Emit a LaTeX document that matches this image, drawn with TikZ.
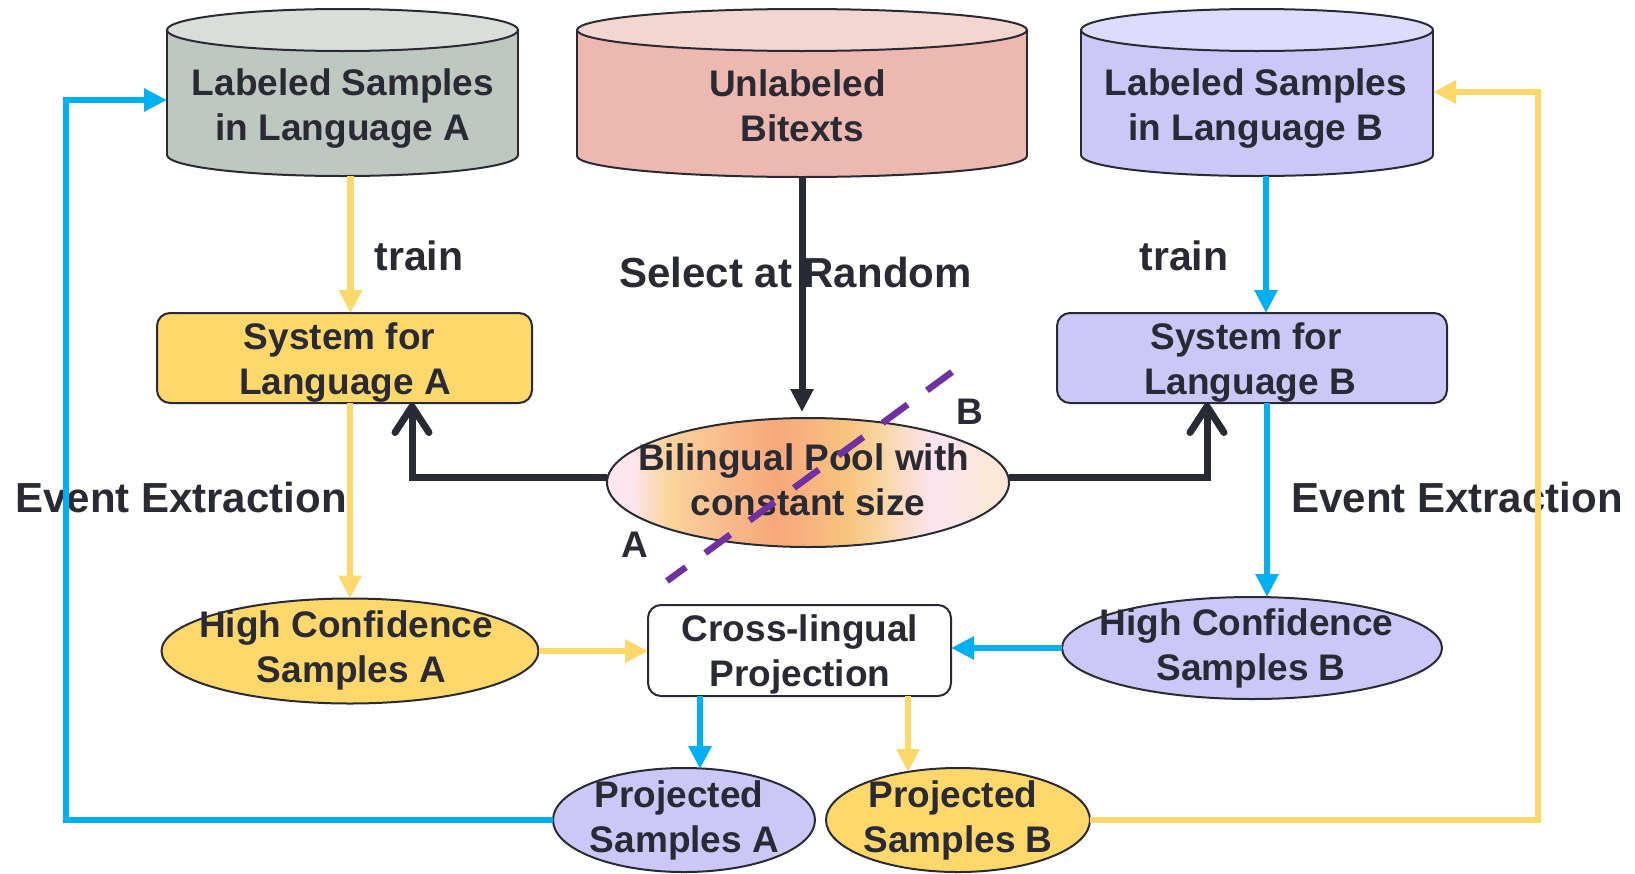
\documentclass[tikz,border=0pt]{standalone}
\usepackage{fontspec}
\setmainfont{Liberation Sans}
\usetikzlibrary{arrows.meta,shapes.geometric,calc}

\definecolor{ink}{HTML}{2A2A35}
\definecolor{flowY}{HTML}{FFD86B}
\definecolor{flowB}{HTML}{00B0F0}
\definecolor{cut}{HTML}{7030A0}
\definecolor{sysY}{HTML}{FFD86B}
\definecolor{sysL}{HTML}{CBC8F8}
\definecolor{drumAbody}{HTML}{BFC7C1}
\definecolor{drumAend}{HTML}{D9DEDA}
\definecolor{drumUbody}{HTML}{ECB8B0}
\definecolor{drumUend}{HTML}{F4D6D1}
\definecolor{drumBbody}{HTML}{CBC8F8}
\definecolor{drumBend}{HTML}{DEDCFC}
\definecolor{poolA}{HTML}{FDE6EE}
\definecolor{poolB}{HTML}{FAD49C}
\definecolor{poolC}{HTML}{F8B88A}
\definecolor{poolD}{HTML}{F7A87A}
\definecolor{poolE}{HTML}{F9B680}
\definecolor{poolF}{HTML}{F8C47C}
\definecolor{poolG}{HTML}{FAD7A8}
\definecolor{poolH}{HTML}{FCE4F0}
\definecolor{poolI}{HTML}{FBE8D8}

\pgfdeclarehorizontalshading{poolshade}{100bp}{%
  color(0bp)=(poolA); color(28bp)=(poolA); color(32.5bp)=(poolB);
  color(40.5bp)=(poolC); color(46bp)=(poolD); color(51bp)=(poolE);
  color(55bp)=(poolF); color(59.5bp)=(poolG); color(65.5bp)=(poolH);
  color(72bp)=(poolI); color(100bp)=(poolI)}

% database drum: centre x, x radius, top y, bottom y, y radius, body colour, end colour
\newcommand\drumshape[7]{%
  \filldraw[fill=#6, draw=ink, line width=2pt] (#1,#4) ellipse [x radius=#2pt, y radius=#5pt];
  \fill[#6] (#1-#2,#3) rectangle (#1+#2,#4);
  \draw[ink, line width=2pt] (#1-#2,#3) -- (#1-#2,#4) (#1+#2,#3) -- (#1+#2,#4);
  \filldraw[fill=#7, draw=ink, line width=2pt] (#1,#3) ellipse [x radius=#2pt, y radius=#5pt];
}

\begin{document}
\begin{tikzpicture}[x=1pt,y=-1pt,
  txt/.style={text=ink, font=\bfseries\fontsize{37}{45}\selectfont, align=center, inner sep=0pt},
  bigtxt/.style={text=ink, font=\bfseries\fontsize{42}{50}\selectfont, inner sep=0pt},
  traintxt/.style={text=ink, font=\bfseries\fontsize{41}{49}\selectfont, inner sep=0pt},
  frame/.style={inner sep=0pt, outer sep=0pt},
  sysbox/.style={frame, rectangle, rounded corners=13pt, draw=ink, line width=2pt},
  oval/.style={frame, ellipse, draw=ink, line width=2pt},
  yline/.style={draw=flowY, line width=6.5pt},
  bline/.style={draw=flowB, line width=6.5pt},
  kline/.style={draw=ink, line width=7pt},
  ftip/.style={-{Triangle[length=23pt,width=22pt]}},
  barb/.style={-{Straight Barb[length=26pt,width=34pt,round]}},
]
\useasboundingbox (0,0) rectangle (1635,873);

% databases
\drumshape{342.5}{175.5}{30}{155}{21}{drumAbody}{drumAend}
\drumshape{802}{225}{30}{156}{21}{drumUbody}{drumUend}
\drumshape{1257}{176}{30}{155}{21}{drumBbody}{drumBend}
\node[frame, minimum width=351pt, minimum height=167pt] (la) at (342.5,92.5) {};
\node[frame, minimum width=450pt, minimum height=168pt] (ub) at (802,93) {};
\node[frame, minimum width=352pt, minimum height=167pt] (lb) at (1257,92.5) {};
\node[txt] (laT) at (343,108.5) {Labeled Samples\\in Language A};
\node[txt] (ubT) at (802,105.5) {Unlabeled\hspace*{9pt}\\Bitexts};
\node[txt] (lbT) at (1256,108.5) {Labeled Samples\\in Language B};

% systems
\node[sysbox, fill=sysY, minimum width=375pt, minimum height=90pt] (sa) at (344.5,358) {};
\node[sysbox, fill=sysL, minimum width=390pt, minimum height=90pt] (sb) at (1252,358) {};
\node[txt] (saT) at (345,362.4) {System for\hspace*{11pt}\\Language A};
\node[txt] (sbT) at (1250,362.4) {System for\hspace*{8pt}\\Language B};

% pool
\node[oval, shade, shading=poolshade, minimum width=402pt, minimum height=129pt] (pool) at (808,482.5) {};
\node[txt] (poolT) at (808,479.5) {Bilingual Pool with\hspace*{9pt}\\constant size};

% high confidence samples and projection
\node[oval, fill=sysY, minimum width=377pt, minimum height=105pt] (hca) at (350,651) {};
\node[oval, fill=sysL, minimum width=380pt, minimum height=102pt] (hcb) at (1252,648) {};
\node[sysbox, fill=white, minimum width=303pt, minimum height=91pt] (cp) at (799.5,650.5) {};
\node[txt] (hcaT) at (351.5,650.9) {High Confidence\hspace*{11pt}\\Samples A};
\node[txt] (hcbT) at (1251,648.9) {High Confidence\hspace*{9pt}\\Samples B};
\node[txt] (cpT) at (800,654.4) {Cross-lingual\\Projection};

% projected samples
\node[oval, fill=sysL, minimum width=262pt, minimum height=104pt] (pa) at (684,820) {};
\node[oval, fill=sysY, minimum width=264pt, minimum height=104pt] (pb) at (958,820) {};
\node[txt] (paT) at (684.5,820.7) {Projected\hspace*{11pt}\\Samples A};
\node[txt] (pbT) at (958,820.7) {Projected\hspace*{10pt}\\Samples B};

% edge labels
\node[traintxt] (trainA) at (419,256) {train};
\node[traintxt] (trainB) at (1184,256) {train};
\node[bigtxt] (select) at (795.5,272) {Select at Random};
\node[bigtxt] (extA) at (181,497) {Event Extraction};
\node[bigtxt] (extB) at (1457,497) {Event Extraction};
\node[txt] (sideA) at (635,545) {A};
\node[txt] (sideB) at (969.5,412) {B};

% training and extraction flows
\draw[yline, ftip] ([xshift=8pt]la.south) -- ([xshift=8pt]la.south |- sa.north);
\draw[bline, ftip] ([xshift=9pt]lb.south) -- ([xshift=9pt]lb.south |- sb.north);
\draw[yline, ftip] (hca.north |- sa.south) -- (hca.north);
\draw[bline, ftip] ([xshift=15pt]hcb.north |- sb.south) -- ([xshift=15pt]hcb.north);

% random selection into the pool, pool feeding both systems
\draw[kline, ftip] (ub.south) -- ([yshift=6pt]ub.south |- pool.north);
\draw[kline, barb] ([yshift=5pt]pool.west) -| ([xshift=67.5pt]sa.south);
\draw[kline, barb] ([yshift=5pt]pool.east) -| ([xshift=-45pt]sb.south);

% projection
\draw[yline, ftip] (hca.east) -- (hca.east -| cp.west);
\draw[bline, ftip] (hcb.west) -- (hcb.west -| cp.east);
\draw[bline, ftip] ([xshift=16pt]pa.north |- cp.south) -- ([xshift=16pt,yshift=-1pt]pa.north);
\draw[yline, ftip] ([xshift=-50pt]pb.north |- cp.south) -- ([xshift=-50pt,yshift=-4pt]pb.north);

% feedback loops
\coordinate (loopL) at (66,100);
\coordinate (loopR) at (1538,92);
\draw[bline, ftip] (pa.west) -| (loopL) -- (loopL -| la.west);
\draw[yline, ftip] (pb.east) -| (loopR) -- (loopR -| lb.east);

% language split of the pool
\coordinate (cutB) at (952,372);
\coordinate (cutA) at (667,581);
\draw[draw=cut, line width=6.5pt, dash pattern=on 31pt off 24pt] (cutB) -- (cutA);
\end{tikzpicture}
\end{document}
